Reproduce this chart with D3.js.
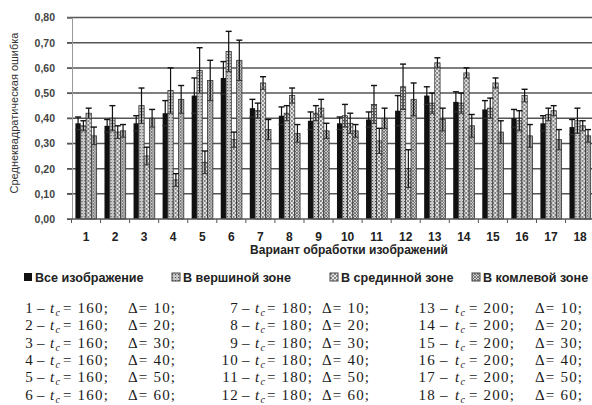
<!DOCTYPE html>
<html>
<head>
<meta charset="utf-8">
<script src="https://cdn.jsdelivr.net/npm/d3@7/dist/d3.min.js"></script>
<style>
  html, body { margin: 0; padding: 0; background: #fff; }
  svg { display: block; }
  .sans { font-family: "Liberation Sans", Arial, sans-serif; }
  .serif { font-family: "Liberation Serif", "Times New Roman", serif; }
</style>
</head>
<body>
<svg id="chart"></svg>
<script>
// chart data
var groups = d3.range(1, 19).map(String);
var seriesNames = ["Все изображение", "В вершиной зоне", "В срединной зоне", "В комлевой зоне"];

var allImage = [0.38, 0.37, 0.38, 0.42, 0.49, 0.56, 0.44, 0.41, 0.39, 0.38, 0.395, 0.43, 0.49, 0.465, 0.435, 0.40, 0.38, 0.365];
var allImageErr = [0.025, 0.025, 0.03, 0.05, 0.07, 0.065, 0.035, 0.035, 0.035, 0.025, 0.03, 0.06, 0.035, 0.04, 0.035, 0.035, 0.03, 0.03];
var topZone = [0.37, 0.40, 0.45, 0.51, 0.59, 0.665, 0.43, 0.42, 0.42, 0.41, 0.455, 0.525, 0.46, 0.46, 0.44, 0.39, 0.415, 0.39];
var topZoneErr = [0.02, 0.05, 0.07, 0.09, 0.09, 0.08, 0.03, 0.03, 0.03, 0.045, 0.075, 0.09, 0.04, 0.04, 0.04, 0.04, 0.025, 0.05];
var midZone = [0.42, 0.345, 0.25, 0.155, 0.225, 0.315, 0.54, 0.49, 0.44, 0.38, 0.31, 0.20, 0.62, 0.58, 0.54, 0.49, 0.43, 0.37];
var midZoneErr = [0.02, 0.025, 0.035, 0.025, 0.045, 0.03, 0.025, 0.03, 0.035, 0.04, 0.05, 0.075, 0.02, 0.02, 0.02, 0.025, 0.02, 0.02];
var buttZone = [0.33, 0.35, 0.40, 0.475, 0.55, 0.63, 0.355, 0.34, 0.35, 0.35, 0.40, 0.475, 0.395, 0.37, 0.345, 0.33, 0.315, 0.33];
var buttZoneErr = [0.035, 0.025, 0.035, 0.055, 0.08, 0.08, 0.04, 0.035, 0.03, 0.025, 0.04, 0.065, 0.045, 0.045, 0.045, 0.045, 0.04, 0.025];

var yTicks = [0, 0.1, 0.2, 0.3, 0.4, 0.5, 0.6, 0.7, 0.8];

// legend table of processing variants
var tcValues = [160, 160, 160, 160, 160, 160, 180, 180, 180, 180, 180, 180, 200, 200, 200, 200, 200, 200];
var deltaValues = [10, 20, 30, 40, 50, 60, 10, 20, 30, 40, 50, 60, 10, 20, 30, 40, 50, 60];

var values = [allImage, topZone, midZone, buttZone];
var errors = [allImageErr, topZoneErr, midZoneErr, buttZoneErr];

var W = 592, H = 405;
var svg = d3.select("#chart").attr("width", W).attr("height", H);

// hatch patterns for the grey bars
var defs = svg.append("defs");
var pB = defs.append("pattern").attr("id", "pat1").attr("width", 3).attr("height", 3).attr("patternUnits", "userSpaceOnUse");
pB.append("rect").attr("width", 3).attr("height", 3).attr("fill", "#ddd");
pB.append("rect").attr("width", 1.2).attr("height", 1.2).attr("fill", "#444");
pB.append("rect").attr("x", 1.5).attr("y", 1.5).attr("width", 1).attr("height", 1).attr("fill", "#777");

var pC = defs.append("pattern").attr("id", "pat2").attr("width", 4).attr("height", 4).attr("patternUnits", "userSpaceOnUse");
pC.append("rect").attr("width", 4).attr("height", 4).attr("fill", "#e6e6e6");
pC.append("circle").attr("cx", 1).attr("cy", 1).attr("r", 0.9).attr("fill", "#555");
pC.append("circle").attr("cx", 3).attr("cy", 3).attr("r", 0.9).attr("fill", "#666");

var pD = defs.append("pattern").attr("id", "pat3").attr("width", 3).attr("height", 3).attr("patternUnits", "userSpaceOnUse");
pD.append("rect").attr("width", 3).attr("height", 3).attr("fill", "#d4d4d4");
pD.append("path").attr("d", "M0,0L3,3M3,0L0,3").attr("stroke", "#555").attr("stroke-width", 0.7);

var fills = ["#111", "url(#pat1)", "url(#pat2)", "url(#pat3)"];

// scales
var y = d3.scaleLinear().domain([0, 0.8]).range([219, 17.5]);
var x0 = d3.scaleBand().domain(groups).range([71.5, 594.6]).paddingInner(0.27).paddingOuter(0.135);
var x1 = d3.scaleBand().domain(d3.range(4)).range([0, x0.bandwidth()]);
var fmt = function(d) { return d3.format(".2f")(d).replace(".", ","); };

// gridlines
svg.append("g")
  .selectAll("line")
  .data(yTicks.slice(1))
  .enter().append("line")
    .attr("x1", 67).attr("x2", W)
    .attr("y1", function(d) { return y(d); })
    .attr("y2", function(d) { return y(d); })
    .attr("stroke", "#555")
    .attr("stroke-width", 1.5);

// y axis
var yAxis = svg.append("g")
    .attr("transform", "translate(72,0)")
    .call(d3.axisLeft(y).tickValues(yTicks).tickFormat(fmt).tickSize(5).tickPadding(12));
yAxis.select(".domain").attr("stroke", "#999");
yAxis.selectAll(".tick line").attr("stroke", "#555");
yAxis.selectAll("text")
    .attr("class", "sans")
    .attr("font-size", 10.5)
    .attr("font-weight", "bold")
    .attr("fill", "#444");

// bars
var groupG = svg.append("g")
  .selectAll("g")
  .data(groups)
  .enter().append("g")
    .attr("transform", function(d) { return "translate(" + x0(d) + ",0)"; });

groupG.selectAll("rect")
  .data(function(d, i) { return d3.range(4).map(function(s) { return {s: s, v: values[s][i], e: errors[s][i]}; }); })
  .enter().append("rect")
    .attr("x", function(d) { return x1(d.s); })
    .attr("width", x1.bandwidth())
    .attr("y", function(d) { return y(d.v); })
    .attr("height", function(d) { return y(0) - y(d.v); })
    .attr("fill", function(d) { return fills[d.s]; })
    .attr("stroke", function(d) { return d.s === 0 ? "none" : "#333"; })
    .attr("stroke-width", 0.8);

// error bars
var err = groupG.selectAll("g.err")
  .data(function(d, i) { return d3.range(4).map(function(s) { return {s: s, v: values[s][i], e: errors[s][i]}; }); })
  .enter().append("g")
    .attr("class", "err")
    .attr("transform", function(d) { return "translate(" + (x1(d.s) + x1.bandwidth() / 2) + ",0)"; });
err.append("line")
    .attr("y1", function(d) { return y(d.v - d.e); })
    .attr("y2", function(d) { return y(d.v + d.e); })
    .attr("stroke", "#111").attr("stroke-width", 1.2);
err.append("line")
    .attr("x1", -3).attr("x2", 3)
    .attr("y1", function(d) { return y(d.v + d.e); })
    .attr("y2", function(d) { return y(d.v + d.e); })
    .attr("stroke", "#111").attr("stroke-width", 1.4);
err.append("line")
    .attr("x1", -3).attr("x2", 3)
    .attr("y1", function(d) { return y(d.v - d.e); })
    .attr("y2", function(d) { return y(d.v - d.e); })
    .attr("stroke", "#333").attr("stroke-width", 1);

// x axis
svg.append("line")
    .attr("x1", 67).attr("x2", W)
    .attr("y1", y(0)).attr("y2", y(0))
    .attr("stroke", "#555").attr("stroke-width", 1.4);
svg.append("g")
  .selectAll("line")
  .data(groups)
  .enter().append("line")
    .attr("x1", function(d) { return x0(d) - x0.step() * x0.paddingInner() / 2; })
    .attr("x2", function(d) { return x0(d) - x0.step() * x0.paddingInner() / 2; })
    .attr("y1", y(0)).attr("y2", y(0) + 4)
    .attr("stroke", "#555");
svg.append("g")
  .selectAll("text")
  .data(groups)
  .enter().append("text")
    .attr("class", "sans")
    .attr("x", function(d) { return x0(d) + x0.bandwidth() / 2; })
    .attr("y", 241)
    .attr("text-anchor", "middle")
    .attr("font-size", 12)
    .attr("font-weight", "bold")
    .attr("fill", "#222")
    .text(function(d) { return d; });

// axis titles
svg.append("text")
    .attr("class", "sans")
    .attr("x", 349).attr("y", 254)
    .attr("text-anchor", "middle")
    .attr("font-size", 12)
    .attr("font-weight", "bold")
    .attr("fill", "#222")
    .text("Вариант обработки изображений");
svg.append("text")
    .attr("class", "sans")
    .attr("transform", "translate(18,113) rotate(-90)")
    .attr("text-anchor", "middle")
    .attr("font-size", 11)
    .attr("fill", "#333")
    .text("Среднеквадратическая ошибка");

// legend
var legendX = [24, 172, 330, 472];
var leg = svg.append("g")
  .selectAll("g")
  .data(seriesNames)
  .enter().append("g")
    .attr("transform", function(d, i) { return "translate(" + legendX[i] + ",277)"; });
leg.append("rect")
    .attr("x", 0).attr("y", -4).attr("width", 8).attr("height", 8)
    .attr("fill", function(d, i) { return fills[i]; })
    .attr("stroke", function(d, i) { return i === 0 ? "none" : "#444"; });
leg.append("text")
    .attr("class", "sans")
    .attr("x", 11).attr("y", 4.5)
    .attr("font-size", 12.6)
    .attr("font-weight", "bold")
    .attr("fill", "#222")
    .text(function(d) { return d; });

// variant table: three columns of six rows, one text line per variant
var numX = [34, 239, 436];
var dashX = [37, 242, 440];
var tX = [50, 255, 455];
var eqX = [63, 267, 469];
var deltaX = [128, 322, 535];
var col = function(i) { return Math.floor(i / 6); };

var rows = svg.append("g")
  .selectAll("text")
  .data(groups)
  .enter().append("text")
    .attr("class", "serif")
    .attr("font-size", 15)
    .attr("letter-spacing", 1.2)
    .attr("fill", "#1a1a1a")
    .attr("y", function(d, i) { return 313 + (i % 6) * 17.3; });
rows.append("tspan")
    .attr("x", function(d, i) { return numX[col(i)]; })
    .attr("text-anchor", "end")
    .text(function(d) { return d; });
rows.append("tspan")
    .attr("x", function(d, i) { return dashX[col(i)]; })
    .text("–");
rows.append("tspan")
    .attr("x", function(d, i) { return tX[col(i)]; })
    .attr("font-style", "italic")
    .text("t");
rows.append("tspan")
    .attr("font-size", 10)
    .attr("font-style", "italic")
    .attr("dy", 3)
    .text("c");
rows.append("tspan")
    .attr("x", function(d, i) { return eqX[col(i)]; })
    .attr("dy", -3)
    .text(function(d, i) { return "= " + tcValues[i] + ";"; });
rows.append("tspan")
    .attr("x", function(d, i) { return deltaX[col(i)]; })
    .text(function(d, i) { return "Δ= " + deltaValues[i] + ";"; });
</script>
</body>
</html>
